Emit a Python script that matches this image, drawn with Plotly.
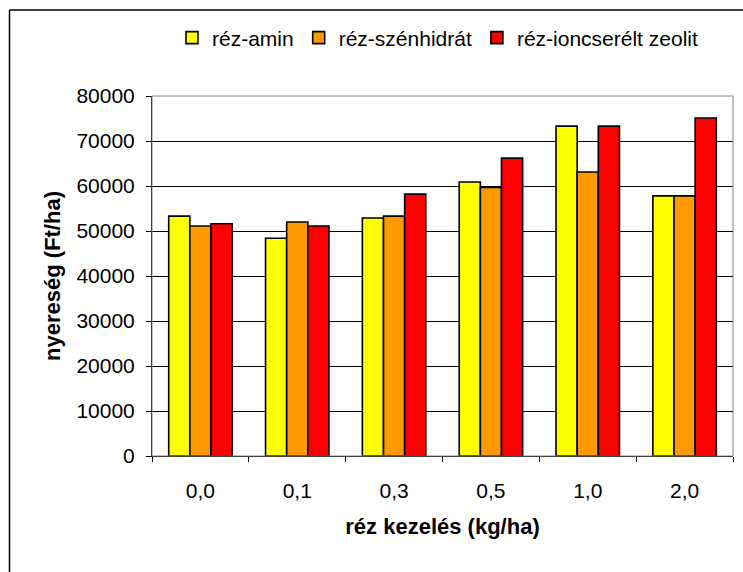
import plotly.graph_objects as go

# Copper treatment levels (kg/ha) and profit (Ft/ha) for each copper form
categories = ["0,0", "0,1", "0,3", "0,5", "1,0", "2,0"]
series_names = ["réz-amin", "réz-szénhidrát", "réz-ioncserélt zeolit"]
rez_amin = [53300, 48400, 52900, 60900, 73300, 57800]
rez_szenhidrat = [51100, 52000, 53300, 59700, 63100, 57800]
rez_zeolit = [51600, 51100, 58200, 66200, 73300, 75100]
series_values = [rez_amin, rez_szenhidrat, rez_zeolit]
series_colors = ["#FFFF00", "#FF9900", "#FF0000"]
y_ticks = [0, 10000, 20000, 30000, 40000, 50000, 60000, 70000, 80000]

FONT = "Liberation Sans, Arial, sans-serif"

fig = go.Figure()
for name, vals, col in zip(series_names, series_values, series_colors):
    fig.add_trace(go.Bar(
        x=categories, y=vals, name=name,
        marker=dict(color=col, line=dict(color="black", width=1.6)),
    ))

W, H = 743, 572
L, R, T, B = 152, 10, 96, 116
pw, ph = W - L - R, H - T - B

def px_x(px):
    return (px - L) / pw

def px_y(py):
    return (H - B - py) / ph

fig.update_layout(
    width=W, height=H,
    margin=dict(l=L, r=R, t=T, b=B, pad=0),
    paper_bgcolor="white", plot_bgcolor="white",
    barmode="group", bargap=0.345, bargroupgap=0,
    font=dict(family=FONT, size=21, color="black"),
    showlegend=True,
    legend=dict(
        orientation="h", x=px_x(172), y=px_y(38), xanchor="left", yanchor="middle",
        font=dict(family=FONT, size=21, color="black"),
        bgcolor="rgba(0,0,0,0)", itemwidth=30, tracegroupgap=0,
    ),
    xaxis=dict(
        type="category", showline=True, linecolor="black", linewidth=1,
        ticks="outside", tickson="boundaries", ticklen=5, tickcolor="black",
        tickfont=dict(family=FONT, size=21), ticklabelstandoff=16,
        showgrid=False,
        title=dict(text="<b>réz kezelés (kg/ha)</b>", font=dict(family=FONT, size=22),
                   standoff=17),
    ),
    yaxis=dict(
        range=[0, 80000], tickvals=y_ticks, tickformat="d",
        showline=True, linecolor="black", linewidth=1,
        ticks="outside", ticklen=5, tickcolor="black",
        tickfont=dict(family=FONT, size=21), ticklabelstandoff=7,
        showgrid=True, gridcolor="black", gridwidth=1, zeroline=False,
        title=dict(text="<b>nyereség (Ft/ha)</b>", font=dict(family=FONT, size=22),
                   standoff=9),
    ),
    shapes=[
        # plot area frame (top and right edges)
        dict(type="rect", xref="paper", yref="paper", x0=0, x1=1, y0=0, y1=1,
             line=dict(color="#808080", width=1), layer="above"),
        # outer chart frame, left and top edges
        dict(type="line", xref="paper", yref="paper",
             x0=px_x(9.5), x1=px_x(9.5), y0=px_y(10), y1=px_y(600),
             line=dict(color="black", width=1.5)),
        dict(type="line", xref="paper", yref="paper",
             x0=px_x(9.5), x1=px_x(760), y0=px_y(10), y1=px_y(10),
             line=dict(color="black", width=1.5)),
    ],
)

fig.write_html("out.html")
